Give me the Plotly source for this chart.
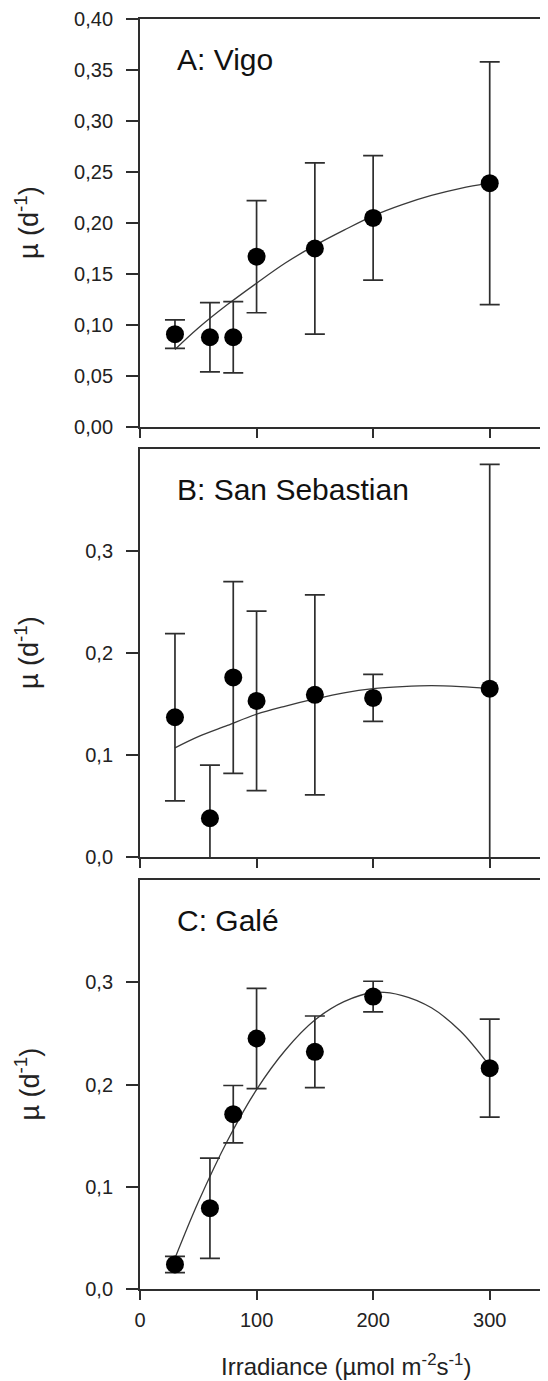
import plotly.graph_objects as go

# ---- data ----
irradiance = [30, 60, 80, 100, 150, 200, 300]

vigo_mu = [0.091, 0.088, 0.088, 0.167, 0.175, 0.205, 0.239]
vigo_err = [0.014, 0.034, 0.035, 0.055, 0.084, 0.061, 0.119]

sanseb_mu = [0.137, 0.038, 0.176, 0.153, 0.159, 0.156, 0.165]
sanseb_err = [0.082, 0.052, 0.094, 0.088, 0.098, 0.023, 0.220]

gale_mu = [0.024, 0.079, 0.171, 0.245, 0.232, 0.286, 0.216]
gale_err = [0.008, 0.049, 0.028, 0.049, 0.035, 0.015, 0.048]

fit_x = [30, 50, 75, 100, 125, 150, 175, 200, 225, 250, 275, 300]
vigo_fit = [0.076, 0.097, 0.120, 0.141, 0.161, 0.178, 0.193, 0.207, 0.218, 0.227, 0.234, 0.239]
sanseb_fit = [0.107, 0.118, 0.129, 0.140, 0.148, 0.155, 0.161, 0.165, 0.167, 0.168, 0.167, 0.165]
gale_fit = [0.030, 0.085, 0.145, 0.195, 0.234, 0.263, 0.281, 0.290, 0.287, 0.275, 0.252, 0.218]

panel_labels = ["A: Vigo", "B: San Sebastian", "C: Galé"]
x_ticks = [0, 100, 200, 300]
yticks_a = [0.0, 0.05, 0.10, 0.15, 0.20, 0.25, 0.30, 0.35, 0.40]
yticks_a_text = ["0,00", "0,05", "0,10", "0,15", "0,20", "0,25", "0,30", "0,35", "0,40"]
yticks_bc = [0.0, 0.1, 0.2, 0.3]
yticks_bc_text = ["0,0", "0,1", "0,2", "0,3"]

# ---- layout geometry (page has an 8px body margin) ----
OFF = 8
W, H = 548 - OFF, 1381 - OFF
L = 140 - OFF
panels_px = [(19 - OFF, 427 - OFF), (449 - OFF, 857 - OFF), (880 - OFF, 1289 - OFF)]
domains = [[(H - b) / H, (H - t) / H] for t, b in panels_px]

FONT = "Liberation Sans, Arial, sans-serif"
AX = "#2e2e2e"

fig = go.Figure()
series = [(vigo_mu, vigo_err, vigo_fit), (sanseb_mu, sanseb_err, sanseb_fit), (gale_mu, gale_err, gale_fit)]
for i, (mu, err, fit) in enumerate(series):
    xa = "x" if i == 0 else f"x{i+1}"
    ya = "y" if i == 0 else f"y{i+1}"
    fig.add_trace(go.Scatter(x=fit_x, y=fit, mode="lines", line=dict(color="#3a3a3a", width=1.3, shape="spline"),
                             xaxis=xa, yaxis=ya, showlegend=False, hoverinfo="skip"))
    fig.add_trace(go.Scatter(x=irradiance, y=mu, mode="markers",
                             marker=dict(color="black", size=18, line=dict(width=0)),
                             error_y=dict(type="data", array=err, visible=True, color=AX, thickness=1.7, width=10),
                             xaxis=xa, yaxis=ya, showlegend=False))

layout = dict(width=W, height=H, margin=dict(l=L, r=0, t=0, b=0),
              plot_bgcolor="white", paper_bgcolor="white",
              font=dict(family=FONT, color="#222"))
for i in range(3):
    xk = "xaxis" if i == 0 else f"xaxis{i+1}"
    yk = "yaxis" if i == 0 else f"yaxis{i+1}"
    ya = "y" if i == 0 else f"y{i+1}"
    xa = "x" if i == 0 else f"x{i+1}"
    layout[xk] = dict(domain=[0, 1], anchor=ya, range=[0, 350], tickvals=x_ticks,
                      ticktext=[str(v) for v in x_ticks], showticklabels=(i == 2),
                      ticks="outside", ticklen=9, tickwidth=1.7, tickcolor=AX,
                      showline=True, linecolor=AX, linewidth=1.9, mirror=True,
                      showgrid=False, zeroline=False, automargin=False, ticklabelstandoff=3,
                      tickfont=dict(size=20, family=FONT, color="#222"))
    layout[yk] = dict(domain=domains[i], anchor=xa, range=[0, 0.4],
                      tickvals=yticks_a if i == 0 else yticks_bc,
                      ticktext=yticks_a_text if i == 0 else yticks_bc_text,
                      ticks="outside", ticklen=12, tickwidth=1.7, tickcolor=AX,
                      showline=True, linecolor=AX, linewidth=1.9, mirror=False,
                      showgrid=False, zeroline=False, automargin=False, ticklabelstandoff=9,
                      tickfont=dict(size=20, family=FONT, color="#222"))
fig.update_layout(**layout)

annotations = []
for i in range(3):
    xa = "x" if i == 0 else f"x{i+1}"
    ya = "y" if i == 0 else f"y{i+1}"
    annotations.append(dict(x=30, y=0.36, xref=xa, yref=ya, text=panel_labels[i], showarrow=False,
                            xanchor="left", yanchor="middle", font=dict(size=30, family=FONT, color="#111")))
    t, b = panels_px[i]
    annotations.append(dict(x=(27 - OFF - L) / (W - L), y=(H - (t + b) / 2) / H, xref="paper", yref="paper",
                            text="µ (d<sup>-1</sup>)", textangle=-90, showarrow=False,
                            xanchor="center", yanchor="middle", font=dict(size=27, family=FONT, color="#222")))
annotations.append(dict(x=(346 - OFF - L) / (W - L), y=(H - (1365 - OFF)) / H, xref="paper", yref="paper",
                        text="Irradiance (µmol m<sup>-2</sup>s<sup>-1</sup>)", showarrow=False,
                        xanchor="center", yanchor="middle", font=dict(size=24, family=FONT, color="#222")))
fig.update_layout(annotations=annotations)

fig.write_html("out.html")
